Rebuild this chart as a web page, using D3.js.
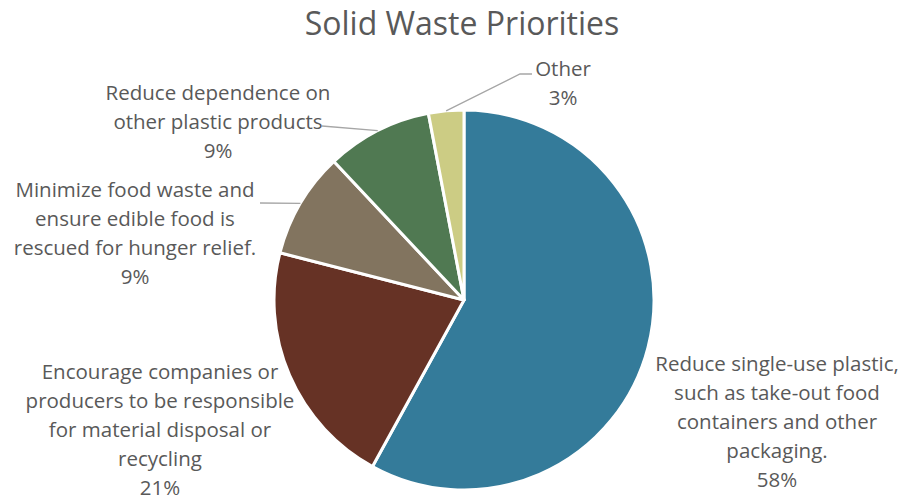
<!DOCTYPE html>
<html>
<head>
<meta charset="utf-8">
<script src="https://cdn.jsdelivr.net/npm/d3@7"></script>
<style>
  html, body { margin: 0; padding: 0; background: #fff; }
  svg text { font-family: "Open Sans", "Noto Sans", sans-serif; fill: #595959; }
</style>
</head>
<body>
<svg id="chart" width="907" height="499"></svg>
<script>
// Survey shares (percent), clockwise from 12 o'clock
const categories = [
  "Reduce single-use plastic, such as take-out food containers and other packaging.",
  "Encourage companies or producers to be responsible for material disposal or recycling",
  "Minimize food waste and ensure edible food is rescued for hunger relief.",
  "Reduce dependence on other plastic products",
  "Other"
];
const values = [58, 21, 9, 9, 3];
const colors = ["#347B9A", "#663225", "#82745F", "#507952", "#CCCC84"];
// Wrapped label lines for each category
const labelLines = [
  ["Reduce single-use plastic,", "such as take-out food", "containers and other", "packaging."],
  ["Encourage companies or", "producers to be responsible", "for material disposal or", "recycling"],
  ["Minimize food waste and", "ensure edible food is", "rescued for hunger relief."],
  ["Reduce dependence on", "other plastic products"],
  ["Other"]
];

const svg = d3.select("#chart");
const cx = 464, cy = 300, R = 190;

svg.append("text")
  .attr("x", 462).attr("y", 35)
  .attr("text-anchor", "middle")
  .style("font-size", "32px")
  .text("Solid Waste Priorities");

const pie = d3.pie().sort(null).value(d => d)(values);
const arc = d3.arc().innerRadius(0).outerRadius(R);

const g = svg.append("g").attr("transform", `translate(${cx},${cy})`);
g.selectAll("path").data(pie).join("path")
  .attr("d", arc)
  .attr("fill", (d, i) => colors[i])
  .attr("stroke", "#fff")
  .attr("stroke-width", 3)
  .attr("stroke-linejoin", "round");

// Label placement: anchor centre x, first baseline y, and optional leader end points
const labelPos = [
  { x: 777, y: 371 },
  { x: 160, y: 379 },
  { x: 135, y: 197, leader: [[260, 203]] },
  { x: 218, y: 100, leader: [[322, 126]] },
  { x: 563, y: 76, leader: [[520, 74], [532, 74]] }
];
const lineH = 29;

const edgePoint = d => {
  const a = (d.startAngle + d.endAngle) / 2;
  return [cx + R * Math.sin(a), cy - R * Math.cos(a)];
};

pie.forEach((d, i) => {
  const p = labelPos[i];
  if (p.leader) {
    const pts = [edgePoint(d)].concat(p.leader);
    svg.append("path")
      .attr("d", d3.line()(pts))
      .attr("fill", "none")
      .attr("stroke", "#a6a6a6")
      .attr("stroke-width", 1.3);
  }
  const t = svg.append("text")
    .attr("text-anchor", "middle")
    .style("font-size", "20.5px");
  const lines = labelLines[i].concat([values[i] + "%"]);
  lines.forEach((s, k) => {
    t.append("tspan").attr("x", p.x).attr("y", p.y + k * lineH).text(s);
  });
});
</script>
</body>
</html>
